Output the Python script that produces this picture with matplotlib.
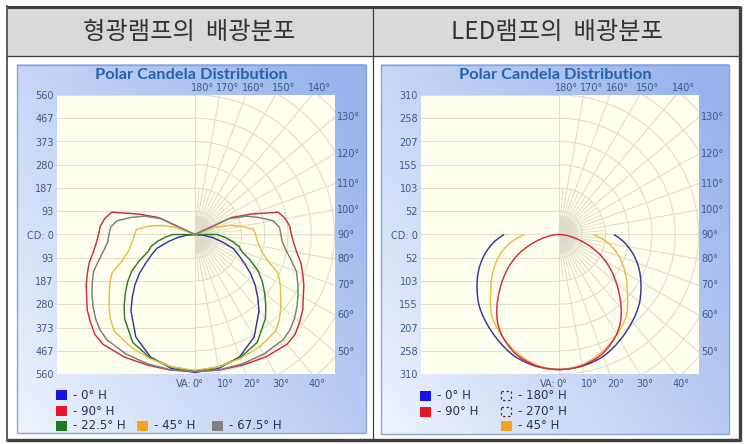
import numpy as np
import matplotlib
matplotlib.use("Agg")
import matplotlib.pyplot as plt
from matplotlib.patches import Rectangle, PathPatch
from matplotlib.path import Path
from matplotlib.colors import to_rgb

# ---------------- data ----------------
header_left = "형광램프의  배광분포"
header_right = "LED램프의  배광분포"
chart_title = "Polar Candela Distribution"

fl_max = 560
fl_tick_labels = ["560", "467", "373", "280", "187", "93", "CD: 0",
                  "93", "187", "280", "373", "467", "560"]
led_max = 310
led_tick_labels = ["310", "258", "207", "155", "103", "52", "CD: 0",
                   "52", "103", "155", "207", "258", "310"]

# fluorescent lamp: vertical angle (deg, 0 = down) -> candela
fl_va_0 = [0, 10, 20, 30, 40, 45, 50, 55, 60, 65, 70, 75, 80, 85, 90]
fl_cd_0 = [554, 546, 523, 475, 400, 356, 315, 272, 228, 192, 163, 111, 72, 35, 0]

fl_va_90 = [0, 10, 20, 30, 40, 45, 50, 55, 60, 65, 70, 75, 80, 85, 90, 95, 100, 105, 110, 115, 120]
fl_cd_90 = [550, 553, 558, 568, 575, 568, 548, 528, 502, 482, 460, 440, 415, 398, 387, 382, 368, 346, 240, 160, 0]

fl_va_22 = [0, 10, 20, 30, 40, 45, 50, 55, 60, 65, 70, 75, 80, 85, 90, 95]
fl_cd_22 = [548, 540, 527, 500, 440, 402, 365, 330, 293, 245, 200, 182, 150, 118, 90, 0]

fl_va_45 = [0, 10, 20, 30, 40, 45, 50, 55, 60, 65, 70, 75, 80, 85, 90, 95, 100, 105, 110, 115]
fl_cd_45 = [545, 540, 530, 520, 505, 480, 450, 420, 395, 368, 312, 280, 262, 250, 243, 236, 190, 140, 85, 0]

fl_va_67 = [0, 10, 20, 30, 40, 45, 50, 55, 60, 65, 70, 75, 80, 85, 90, 95, 100, 105, 110, 115, 120]
fl_cd_67 = [550, 552, 553, 554, 551, 540, 522, 500, 478, 455, 433, 400, 372, 352, 345, 340, 318, 265, 215, 150, 0]

# LED lamp
led_va = [0, 5, 10, 15, 20, 25, 30, 35, 40, 45, 50, 55, 60, 65, 70, 75, 80, 85, 90]
led_cd_0 = [300, 299, 297, 293, 288, 280, 271, 262, 253, 244, 234, 222, 210, 198, 185, 171, 156, 140, 122]
led_cd_90 = [300, 299, 296, 290, 282, 270, 256, 238, 215, 190, 166, 143, 120, 96, 70, 46, 26, 11, 0]
led_cd_45 = [300, 298, 294, 287, 278, 268, 257, 246, 233, 216, 198, 184, 170, 156, 142, 127, 111, 94, 77]

fl_labels = ["- 0° H", "- 90° H", "- 22.5° H", "- 45° H", "- 67.5° H"]
led_labels = ["- 0° H", "- 90° H", "- 180° H", "- 270° H", "- 45° H"]

# ---------------- style ----------------
W, H = 748, 444
fig = plt.figure(figsize=(W / 100, H / 100), dpi=100)
bg = fig.add_axes([0, 0, 1, 1])
bg.set_axis_off()

C_BLUE, C_BLUE_L = "#3434a6", "#1414e4"
C_RED, C_RED_L = "#d42a3c", "#e8142a"
C_GREEN, C_GREEN_L = "#2c7a2c", "#1f7a1f"
C_ORANGE, C_ORANGE_L = "#f2b848", "#f7a21b"
C_GRAY, C_GRAY_L = "#7c7c7c", "#808080"
GRID = "#e3dfc4"
LAB = "#3d5a8c"
LEG = "#22345c"
TITLE = "#2463ad"
BORDER = "#404040"

# table header cells
bg.add_patch(Rectangle((8, 8), 365, 48, fc="#d9d9d9", ec="none", zorder=1))
bg.add_patch(Rectangle((373, 8), 366, 48, fc="#d9d9d9", ec="none", zorder=1))
bg.plot([7.5, 740], [7.5, 7.5], color=BORDER, lw=2.2, zorder=5, solid_capstyle="butt")
bg.plot([740, 740], [6.5, 441], color=BORDER, lw=2.4, zorder=5, solid_capstyle="butt")
bg.plot([7, 741], [440, 440], color=BORDER, lw=2.4, zorder=5, solid_capstyle="butt")
bg.plot([7.5, 7.5], [6.5, 441], color=BORDER, lw=1.2, zorder=5)
bg.plot([373, 373], [7, 440], color=BORDER, lw=0.9, zorder=5)
bg.plot([7, 740], [56.5, 56.5], color=BORDER, lw=0.9, zorder=5)

cjk = ["Noto Sans CJK KR", "DejaVu Sans"]
bg.text(189, 32, header_left, ha="center", va="center", fontsize=17.5,
        family=cjk, color="#333333", zorder=6)
bg.text(557, 32, header_right, ha="center", va="center", fontsize=17.5,
        family=cjk, color="#333333", zorder=6)


def panel(x0, y0, x1, y1):
    xs = np.linspace(0, 1, 160)
    ys = np.linspace(1, 0, 160)
    X, Y = np.meshgrid(xs, ys)
    t = np.clip(0.62 * X + 0.45 * Y, 0, 1)
    c0 = np.array(to_rgb("#eef3fd"))
    c1 = np.array(to_rgb("#98b3ec"))
    img = c0 + (c1 - c0) * t[..., None]
    bg.imshow(img, extent=(x0, x1, y1, y0), aspect="auto", zorder=2,
              interpolation="bilinear")
    bg.add_patch(Rectangle((x0, y0), x1 - x0, y1 - y0, fill=False,
                           ec="#8ba4d4", lw=1, zorder=3))
    bg.text((x0 + x1) / 2, 75, chart_title, ha="center", va="center",
            fontsize=11.8, weight="bold", family="Lato", color=TITLE, zorder=4)


panel(17, 65, 366, 433)
panel(381, 65, 729, 434)
bg.set_xlim(0, W)
bg.set_ylim(H, 0)


def polar_xy(va, cd):
    a = np.radians(np.asarray(va, float))
    r = np.asarray(cd, float)
    xr = r * np.sin(a)
    yr = -r * np.cos(a)
    return (np.concatenate([-xr[::-1], xr[1:]]),
            np.concatenate([yr[::-1], yr[1:]]))


def smooth_path(x, y):
    """Catmull-Rom curve through the given points, as cubic Bezier path."""
    P = np.column_stack([x, y])
    n = len(P)
    verts = [P[0]]
    codes = [Path.MOVETO]
    for i in range(n - 1):
        p0 = P[i - 1] if i > 0 else P[i]
        p1, p2 = P[i], P[i + 1]
        p3 = P[i + 2] if i + 2 < n else P[i + 1]
        c1 = p1 + (p2 - p0) / 6.0
        c2 = p2 - (p3 - p1) / 6.0
        verts += [c1, c2, p2]
        codes += [Path.CURVE4] * 3
    return Path(verts, codes)


def setup_chart(cx, left, right, top, bottom, vmax, tick_labels):
    scale = (bottom - top) / (2 * vmax)
    xmin = -(cx - left) / scale
    xmax = (right - cx) / scale
    ax = fig.add_axes([left / W, 1 - bottom / H, (right - left) / W, (bottom - top) / H])
    ax.set_xlim(xmin, xmax)
    ax.set_ylim(-vmax, vmax)
    ax.set_facecolor("#fffff0")
    for s in ax.spines.values():
        s.set_visible(False)
    step = vmax / 6
    yt = np.arange(6, -7, -1) * step
    ax.set_yticks(yt)
    ax.set_yticklabels(tick_labels)
    ax.set_xticks([])
    ax.tick_params(axis="y", length=0, pad=2.2, labelsize=7, labelcolor=LAB)
    # left half: horizontal grid
    for v in yt:
        ax.plot([xmin, 0], [v, v], color=GRID, lw=0.8, zorder=1)
    # right half: arcs
    th = np.linspace(0, np.pi, 241)
    for k in range(1, 10):
        R = k * step
        ax.plot(R * np.sin(th), -R * np.cos(th), color=GRID, lw=0.8, zorder=1)
    # radial lines
    big = vmax * 3
    for a in range(0, 181, 10):
        ar = np.radians(a)
        ax.plot([0, big * np.sin(ar)], [0, -big * np.cos(ar)], color=GRID, lw=0.8, zorder=1)
    for a in range(5, 180, 10):
        ar = np.radians(a)
        ax.plot([0, 2 * step * np.sin(ar)], [0, -2 * step * np.cos(ar)],
                color=GRID, lw=0.7, zorder=1)
    for a in np.arange(2.5, 180, 5):
        ar = np.radians(a)
        ax.plot([0, 0.8 * step * np.sin(ar)], [0, -0.8 * step * np.cos(ar)],
                color="#dcdcd0", lw=0.6, zorder=1)
    # angle labels
    kw = dict(textcoords="offset pixels", fontsize=7, color=LAB, annotation_clip=False)
    for a in [180, 170, 160, 150, 140]:
        x = vmax * np.tan(np.radians(180 - a))
        ax.annotate(f"{a}°", (x, vmax), xytext=(-4, 2), ha="left", va="bottom", **kw)
    for a in [130, 120, 110, 100, 90, 80, 70, 60, 50]:
        y = -xmax * np.cos(np.radians(a)) / np.sin(np.radians(a))
        ax.annotate(f"{a}°", (xmax, y), xytext=(2, 0), ha="left", va="center", **kw)
    ax.annotate("VA:", (0, -vmax), xytext=(-3, -5), ha="right", va="top", **kw)
    for a in [0, 10, 20, 30, 40]:
        x = vmax * np.tan(np.radians(a))
        ax.annotate(f"{a}°", (x, -vmax), xytext=(-3, -5), ha="left", va="top", **kw)
    return ax


# ---- fluorescent chart ----
ax1 = setup_chart(195, 57, 335, 95, 374, fl_max, fl_tick_labels)
for va, cd, col in [(fl_va_0, fl_cd_0, C_BLUE), (fl_va_90, fl_cd_90, C_RED),
                    (fl_va_22, fl_cd_22, C_GREEN), (fl_va_45, fl_cd_45, C_ORANGE),
                    (fl_va_67, fl_cd_67, C_GRAY)]:
    x, y = polar_xy(va, cd)
    ax1.plot(x, y, color=col, lw=1.05, zorder=3, solid_joinstyle="miter")

# ---- LED chart ----
ax2 = setup_chart(559, 421, 699, 95, 374, led_max, led_tick_labels)
for cd, col in [(led_cd_0, C_BLUE), (led_cd_45, C_ORANGE), (led_cd_90, C_RED)]:
    x, y = polar_xy(led_va, cd)
    ax2.add_patch(PathPatch(smooth_path(x, y), fill=False, ec=col, lw=1.05, zorder=3))


# ---- legends ----
def leg_item(x, y, label, color=None, dashed_ec=None):
    if dashed_ec is None:
        bg.add_patch(Rectangle((x, y - 5), 11, 10, fc=color, ec="none", zorder=6))
    else:
        bg.add_patch(Rectangle((x + 0.5, y - 4.5), 10, 9, fill=False, ec=dashed_ec,
                               lw=0.9, ls=(0, (2, 2)), zorder=6))
    bg.text(x + 17, y, label, ha="left", va="center", fontsize=8.5, color=LEG,
            family="DejaVu Sans", zorder=6)


leg_item(56, 395, fl_labels[0], C_BLUE_L)
leg_item(56, 411, fl_labels[1], C_RED_L)
leg_item(56, 425.5, fl_labels[2], C_GREEN_L)
leg_item(137, 425.5, fl_labels[3], C_ORANGE_L)
leg_item(212, 425.5, fl_labels[4], C_GRAY_L)

leg_item(420, 395.5, led_labels[0], C_BLUE_L)
leg_item(420, 411.5, led_labels[1], C_RED_L)
leg_item(501, 395.5, led_labels[2], dashed_ec="#2a3a72")
leg_item(501, 411.5, led_labels[3], dashed_ec="#6a2a2a")
leg_item(501, 425.5, led_labels[4], C_ORANGE_L)

fig.savefig("out.png", dpi=100)
